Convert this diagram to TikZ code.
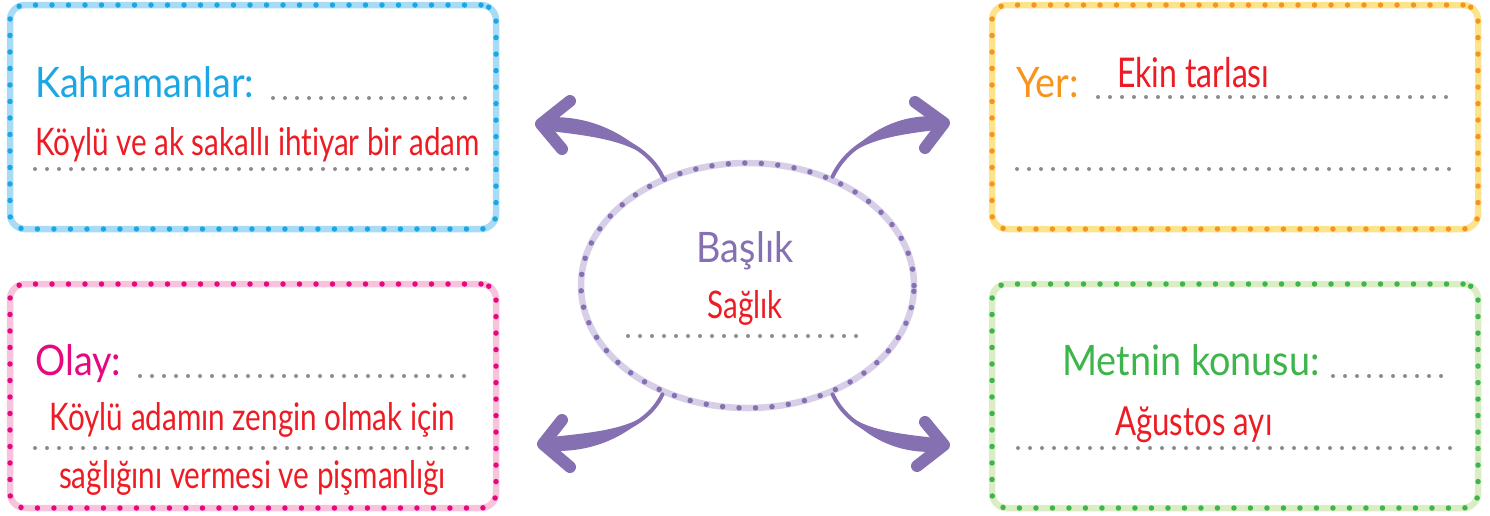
\documentclass[tikz,border=0pt]{standalone}
\usepackage{fontspec}
\setmainfont{Lato}
\newfontfamily\labelfont[FakeStretch=0.9]{Lato}
\newfontfamily\answerfont[FakeStretch=0.78, Ligatures=NoCommon]{Lato}
\usetikzlibrary{shapes.geometric, calc}

\definecolor{heroblue}{HTML}{1BA7E5}
\definecolor{heroblueL}{HTML}{A8DCF6}
\definecolor{placeorange}{HTML}{F7941D}
\definecolor{placeorangeL}{HTML}{FDE48C}
\definecolor{eventpink}{HTML}{E6087F}
\definecolor{eventpinkL}{HTML}{F8C4DC}
\definecolor{topicgreen}{HTML}{3DB54A}
\definecolor{topicgreenL}{HTML}{DAEDC4}
\definecolor{titlepurple}{HTML}{8570B1}
\definecolor{titlepurpleL}{HTML}{D7CEE8}
\definecolor{answerred}{HTML}{ED1C24}
\definecolor{rulegray}{HTML}{8C8C8C}

\tikzset{
  dotborder/.style 2 args={draw=#2, line width=6.5pt,
    postaction={draw=#1, line width=5.5pt, line cap=round, dash pattern=on 0pt off 16.5pt}},
  infobox/.style 2 args={rectangle, rounded corners=15pt, minimum width=486pt,
    minimum height=224pt, inner sep=0pt, dotborder={#1}{#2}},
  ruleline/.style={rulegray, line width=4pt, line cap=round, dash pattern=on 0pt off 12pt},
  labeltext/.style={font=\labelfont\fontsize{42}{42}\selectfont, anchor=base west, inner sep=0pt},
  answertext/.style={font=\answerfont\fontsize{38}{38}\selectfont, text=answerred, inner sep=0pt},
  shaft/.style={draw=titlepurple, line width=4pt, line cap=round},
  headline/.style={draw=titlepurple, line width=12pt, line cap=round, line join=round}
}

\begin{document}
\begin{tikzpicture}[x=1pt, y=-1pt]
\useasboundingbox (0,0) rectangle (1490,515);

% Boxes
\node[infobox={heroblue}{heroblueL}] (heroes box) at (253,117) {};
\node[infobox={placeorange}{placeorangeL}] (place box) at (1235,117) {};
\node[infobox={eventpink}{eventpinkL}] (event box) at (253,396) {};
\node[infobox={topicgreen}{topicgreenL}] (topic box) at (1235,396) {};

% Title ellipse
\node[ellipse, minimum width=333pt, minimum height=245pt, inner sep=0pt,
  dotborder={titlepurple}{titlepurpleL}] (title) at (747.5,285.5) {};

% Arrow tips
\coordinate (tipTL) at (541,124);
\coordinate (tipTR) at (944,123);
\coordinate (tipBL) at (543,444);
\coordinate (tipBR) at (944,445);

% Arrows (tapered shafts)
\draw[shaft] (title.128) .. controls +(-18,-38) and +(50,1) .. (tipTL);
\fill[titlepurple] (title.128) .. controls +(-22,-38) and +(50,-6) .. ($(tipTL)+(0,-6)$)
  -- ($(tipTL)+(0,6)$) .. controls +(50,6) and +(-14,-36) .. (title.128);
\draw[shaft] (title.52) .. controls +(18,-38) and +(-50,1) .. (tipTR);
\fill[titlepurple] (title.52) .. controls +(22,-38) and +(-50,-6) .. ($(tipTR)+(0,-6)$)
  -- ($(tipTR)+(0,6)$) .. controls +(-50,6) and +(14,-36) .. (title.52);
\draw[shaft] (title.232) .. controls +(-18,38) and +(50,-1) .. (tipBL);
\fill[titlepurple] (title.232) .. controls +(-22,38) and +(50,6) .. ($(tipBL)+(0,6)$)
  -- ($(tipBL)+(0,-6)$) .. controls +(50,-6) and +(-14,36) .. (title.232);
\draw[shaft] (title.308) .. controls +(18,38) and +(-50,-1) .. (tipBR);
\fill[titlepurple] (title.308) .. controls +(22,38) and +(-50,6) .. ($(tipBR)+(0,6)$)
  -- ($(tipBR)+(0,-6)$) .. controls +(-50,-6) and +(14,36) .. (title.308);
\draw[headline] (tipTL) ++(29,-23) -- (tipTL) -- ++(21,25);
\draw[headline] (tipTR) ++(-29,-21) -- (tipTR) -- ++(-19,25);
\draw[headline] (tipBL) ++(19,-24) -- (tipBL) -- ++(27,23);
\draw[headline] (tipBR) ++(-19,-23) -- (tipBR) -- ++(-27,21);

% Heroes
\node[labeltext, text=heroblue] (heroes) at (35,97) {Kahramanlar:};
\draw[ruleline] (273,98) -- (470,98);
\node[answertext, anchor=base west] (heroes answer) at (35,155) {Köylü ve ak sakallı ihtiyar bir adam};
\draw[ruleline] (35,169) -- (470,169);

% Place
\node[labeltext, text=placeorange] (place) at (1016,97) {Yer:};
\draw[ruleline] (1098,97) -- (1451,97);
\node[answertext, anchor=base west, font=\answerfont\fontsize{41}{41}\selectfont] (place answer) at (1117,87) {Ekin tarlası};
\draw[ruleline] (1017,169) -- (1451,169);

% Event
\node[labeltext, text=eventpink] (event) at (35,375) {Olay:};
\draw[ruleline] (140,376) -- (470,376);
\node[answertext, anchor=base] (event answer) at (252.5,430) {Köylü adamın zengin olmak için};
\draw[ruleline] (35,448) -- (470,448);
\node[answertext, anchor=base] (event answer2) at (252.5,488) {sağlığını vermesi ve pişmanlığı};

% Topic
\node[labeltext, text=topicgreen] (topic) at (1062,375) {Metnin konusu:};
\draw[ruleline] (1333,376) -- (1452,376);
\node[answertext, anchor=base west, font=\answerfont\fontsize{40}{40}\selectfont] (topic answer) at (1115,435) {Ağustos ayı};
\draw[ruleline] (1018,448) -- (1452,448);

% Title
\node[labeltext, anchor=base, text=titlepurple] (title label) at (745,262) {Başlık};
\node[answertext, anchor=base] (title answer) at (745,318) {Sağlık};
\draw[ruleline] (628,336) -- (865,336);
\end{tikzpicture}
\end{document}
